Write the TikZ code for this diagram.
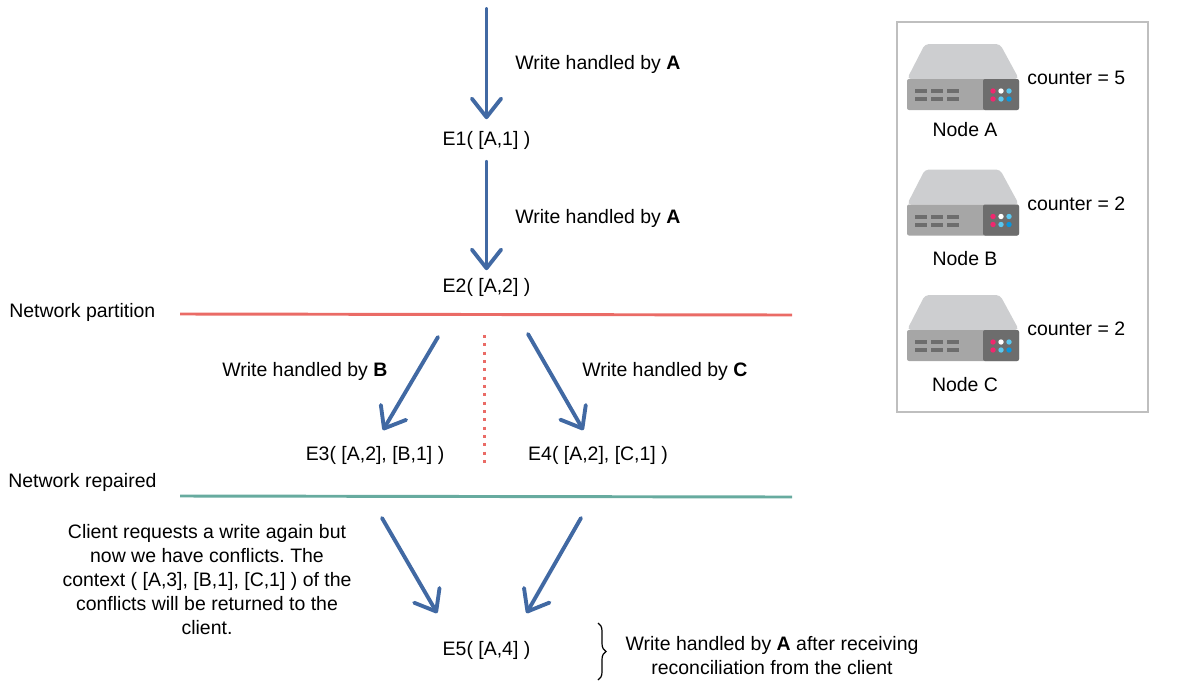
\documentclass[tikz,border=0pt]{standalone}
\usepackage{fontspec}
\setmainfont{Liberation Sans}
\usetikzlibrary{arrows.meta}
\usetikzlibrary{decorations.pathreplacing}
\frenchspacing
\definecolor{flowblue}{HTML}{4169A3}
\definecolor{cutred}{HTML}{EA6B66}
\definecolor{fixteal}{HTML}{67AB9F}
\definecolor{boxgray}{HTML}{BFBFBF}
\tikzset{
  txt/.style={inner sep=0pt,font=\fontsize{14.6}{18}\selectfont},
  flow/.style={line width=2.9pt,flowblue,line cap=round,-{Straight Barb[length=14pt,width=22pt,line width=2.9pt,round]}},
  server/.pic={
    \fill[rounded corners=3pt,fill={rgb,255:red,205;green,206;blue,208}] (0,35) -- (18,0) -- (93,0) -- (112,35) -- cycle;
    \fill[rounded corners=1.5pt,fill={rgb,255:red,166;green,166;blue,166}] (0,35) rectangle (112,66);
    \fill[rounded corners=1.5pt,fill={rgb,255:red,109;green,109;blue,109}] (76,35) rectangle (112,66);
    \foreach \x in {8,24,40} \foreach \y in {45,53}
      \fill[fill={rgb,255:red,109;green,109;blue,109}] (\x,\y) rectangle +(12,4);
    \fill[fill={rgb,255:red,240;green,40;blue,110}] (86,47) circle (2.7) (86,55) circle (2.7);
    \fill[white] (94,47) circle (2.7);
    \fill[fill={rgb,255:red,90;green,200;blue,240}] (102,47) circle (2.7) (94,55) circle (2.7);
    \fill[fill={rgb,255:red,10;green,150;blue,220}] (102,55) circle (2.7);
  }
}

\begin{document}
\begin{tikzpicture}[x=0.75pt,y=-0.75pt]
\useasboundingbox (0,0) rectangle (1198,693);

% events
\node[txt] (e1) at (486.5,140.5) {E1( [A,1] )};
\node[txt] (e2) at (486.5,287.5) {E2( [A,2] )};
\node[txt] (e3) at (375,455.5) {E3( [A,2], [B,1] )};
\node[txt] (e4) at (598,455.5) {E4( [A,2], [C,1] )};
\node[txt] (e5) at (486.5,650.5) {E5( [A,4] )};

\node[txt,anchor=west] (w1) at (515,64.5) {Write handled by \textbf{A}};
\node[txt,anchor=west] (w2) at (515,218.5) {Write handled by \textbf{A}};
\node[txt,anchor=west] (w3) at (222,371.5) {Write handled by \textbf{B}};
\node[txt,anchor=west] (w4) at (582,371.5) {Write handled by \textbf{C}};
\node[txt,anchor=west] (np) at (9,312.5) {Network partition};
\node[txt,anchor=west] (nr) at (8,482.5) {Network repaired};
\node[txt,align=center] (cl) at (207,580) {Client requests a write again but\\now we have conflicts. The\\context ( [A,3], [B,1], [C,1] ) of the\\conflicts will be returned to the\\client.};
\node[txt,align=center] (rc) at (772,655.5) {Write handled by \textbf{A} after receiving\\reconciliation from the client};

% free ends
\coordinate (top) at (486.5,9);
\coordinate (e2l) at (438,337);
\coordinate (e2r) at (528,334);
\coordinate (e3l) at (382,518);
\coordinate (e4l) at (581,518);
\coordinate (pa) at (180,314);
\coordinate (pb) at (792,315);
\coordinate (ra) at (180,496);
\coordinate (rb) at (792,497);
\coordinate (da) at (484.5,335);
\coordinate (db) at (484.5,463);
\coordinate (ba) at (598,623);
\coordinate (bb) at (598,680);

\draw[flow] (top) -- ([yshift=9pt]e1.north);
\draw[flow] ([yshift=-9pt]e1.south) -- ([yshift=6pt]e2.north);
\draw[flow] (e2l) -- ([xshift=6pt,yshift=12pt]e3.north);
\draw[flow] (e2r) -- ([xshift=-11pt,yshift=12pt]e4.north);
\draw[flow] (e3l) -- ([xshift=-37pt,yshift=21pt]e5.north);
\draw[flow] (e4l) -- ([xshift=30pt,yshift=21pt]e5.north);

\draw[cutred,line width=2.2pt] (pa) -- (pb);
\draw[fixteal,line width=2.2pt] (ra) -- (rb);
\draw[cutred,line width=2.3pt,dash pattern=on 2.3pt off 3.95pt] (da) -- (db);
\draw[line width=0.9pt,decorate,decoration={brace,amplitude=6pt,aspect=0.5}] (ba) -- (bb);

% legend
\node[draw=boxgray,line width=1.1pt,minimum width=188pt,minimum height=292.5pt,inner sep=0pt] (legend) at (1022.5,217) {};
\pic at (907,44) {server};
\pic at (907,169.5) {server};
\pic at (907,295) {server};
\node[txt,anchor=west] (ca) at (1027,78) {counter = 5};
\node[txt,anchor=west] (cb) at (1027,204) {counter = 2};
\node[txt,anchor=west] (cc) at (1027,329) {counter = 2};
\node[txt] (na) at (965,130) {Node A};
\node[txt] (nb) at (965,259) {Node B};
\node[txt] (nc) at (965,385) {Node C};

\end{tikzpicture}
\end{document}
